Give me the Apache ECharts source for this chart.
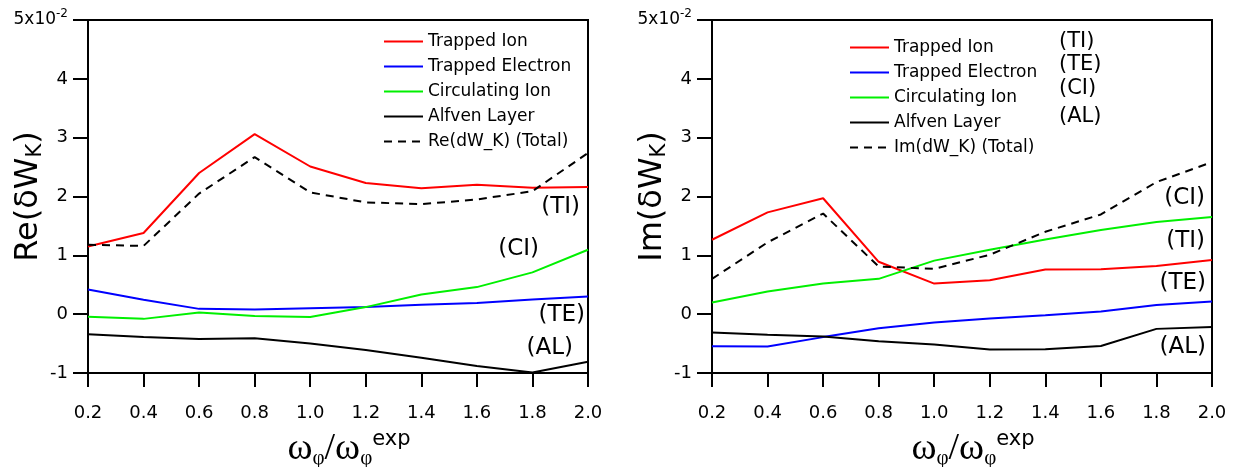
<!DOCTYPE html>
<html><head><meta charset="utf-8">
<script src="https://cdn.jsdelivr.net/npm/echarts@6/dist/echarts.min.js"></script>
<style>html,body{margin:0;padding:0;background:#fff}#c{width:1243px;height:467px}</style>
</head><body><div id="c"></div>
<script>
const xVals = [0.2,0.4,0.6,0.8,1.0,1.2,1.4,1.6,1.8,2.0];
const reTI  = [1.15,1.38,2.40,3.06,2.51,2.23,2.14,2.20,2.15,2.16];
const reTE  = [0.42,0.245,0.09,0.08,0.10,0.12,0.16,0.19,0.25,0.30];
const reCI  = [-0.045,-0.08,0.03,-0.03,-0.05,0.12,0.335,0.46,0.71,1.095];
const reAL  = [-0.34,-0.39,-0.42,-0.41,-0.50,-0.61,-0.74,-0.88,-0.99,-0.81];
const reTot = [1.18,1.16,2.05,2.67,2.07,1.90,1.87,1.95,2.09,2.74];
const imTI  = [1.265,1.73,1.97,0.89,0.52,0.575,0.76,0.765,0.82,0.92];
const imTE  = [-0.545,-0.55,-0.39,-0.24,-0.14,-0.073,-0.02,0.045,0.155,0.215];
const imCI  = [0.20,0.385,0.52,0.60,0.91,1.095,1.27,1.43,1.565,1.65];
const imAL  = [-0.31,-0.35,-0.38,-0.46,-0.515,-0.60,-0.595,-0.54,-0.25,-0.22];
const imTot = [0.60,1.22,1.71,0.81,0.77,1.01,1.40,1.695,2.245,2.585];
const names = ['Trapped Ion','Trapped Electron','Circulating Ion','Alfven Layer'];
const reTotName = 'Re(dW_K) (Total)';
const imTotName = 'Im(dW_K) (Total)';
const colors = ['#ff0000','#0000ff','#00f000','#000000'];

const F = 'DejaVu Sans';
const pairs = a => a.map((v,i)=>[xVals[i], v]);

function xAx(gi){
  return {type:'value', gridIndex:gi, min:0.2, max:2.0, interval:0.2,
    axisLine:{onZero:false, lineStyle:{color:'#000',width:2}},
    axisTick:{length:14, lineStyle:{color:'#000',width:2}},
    axisLabel:{margin:31, color:'#000', fontSize:18, fontFamily:F, formatter:v=>v.toFixed(1)},
    splitLine:{show:false},
    name:'{w|ω}{p|φ}{w|/ω}{p|φ}{e|exp}', nameLocation:'middle', nameGap:56, nameMoveOverlap:false,
    nameTextStyle:{padding:[0,0,0,22], rich:{
      w:{fontFamily:'Liberation Serif', fontSize:38, color:'#000'},
      p:{fontFamily:'Liberation Serif', fontSize:21, color:'#000', padding:[18,0,0,0]},
      e:{fontFamily:F, fontSize:21, color:'#000', padding:[0,0,20,0]}
    }}
  };
}
function yAx(gi, pre){
  return {type:'value', gridIndex:gi, min:-1, max:5, interval:1,
    axisLine:{onZero:false, lineStyle:{color:'#000',width:2}},
    axisTick:{length:15, lineStyle:{color:'#000',width:2}},
    axisLabel:{margin:20, color:'#000', fontSize:18, fontFamily:F,
      formatter:v=> v===5 ? '{b|5x10}{s|-2}' : String(v),
      rich:{b:{fontSize:17, fontFamily:F, color:'#000'}, s:{fontSize:12, fontFamily:F, color:'#000', padding:[0,0,12,0]}}},
    splitLine:{show:false},
    name:'{a|'+pre+'(δW}{s|K}{a|)}', nameLocation:'middle', nameGap:42, nameRotate:90, nameMoveOverlap:false,
    nameTextStyle:{rich:{
      a:{fontFamily:F, fontSize:32, color:'#000'},
      s:{fontFamily:F, fontSize:21, color:'#000', padding:[14,0,0,0]}
    }}
  };
}
function ser(gi, name, data, color, dashed){
  return {type:'line', name, xAxisIndex:gi, yAxisIndex:gi, data:pairs(data),
    symbol:'none', showSymbol:false, animation:false,
    lineStyle:{color, width:2, type: dashed ? [8,6] : 'solid'}, itemStyle:{color}};
}
function txt(t, x, y, size, align){
  return {type:'text', x, y, silent:true,
    style:{text:t, font: size+'px "'+F+'"', fill:'#000', align:align||'right', verticalAlign:'middle'}};
}
function leg(left, top, data){
  return {left, top, orient:'vertical', itemWidth:39, itemHeight:14, itemGap:8, padding:0,
    itemStyle:{opacity:0},
    textStyle:{fontSize:17, fontFamily:F, color:'#000'}, data, selectedMode:false};
}

const chart = echarts.init(document.getElementById('c'), null, {renderer:'canvas'});
chart.setOption({
  animation:false,
  backgroundColor:'#fff',
  grid:[
    {left:88, top:20, width:500, height:353, show:true, borderColor:'#000', borderWidth:2, containLabel:false, outerBoundsMode:'none'},
    {left:712, top:20, width:500, height:353, show:true, borderColor:'#000', borderWidth:2, containLabel:false, outerBoundsMode:'none'}
  ],
  xAxis:[xAx(0), xAx(1)],
  yAxis:[yAx(0,'Re'), yAx(1,'Im')],
  legend:[ leg(383, 33, [...names, reTotName]), leg(849, 39, [...names, imTotName]) ],
  series:[
    ser(0, names[0], reTI, colors[0]),
    ser(0, names[1], reTE, colors[1]),
    ser(0, names[2], reCI, colors[2]),
    ser(0, names[3], reAL, colors[3]),
    ser(0, reTotName, reTot, '#000', true),
    ser(1, names[0], imTI, colors[0]),
    ser(1, names[1], imTE, colors[1]),
    ser(1, names[2], imCI, colors[2]),
    ser(1, names[3], imAL, colors[3]),
    ser(1, imTotName, imTot, '#000', true)
  ],
  graphic:[
    txt('(TI)', 580, 207, 23), txt('(CI)', 539, 249, 23), txt('(TE)', 585, 315, 23), txt('(AL)', 573, 348, 23),
    txt('(CI)', 1205, 198, 23), txt('(TI)', 1205, 241, 23), txt('(TE)', 1206, 283, 23), txt('(AL)', 1206, 347, 23),
    txt('(TI)', 1059, 42, 21, 'left'), txt('(TE)', 1059, 65, 21, 'left'), txt('(CI)', 1059, 89, 21, 'left'), txt('(AL)', 1059, 117, 21, 'left')
  ]
});
</script></body></html>
